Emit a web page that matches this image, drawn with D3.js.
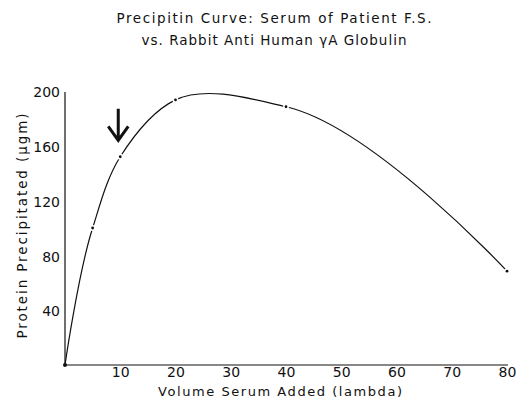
<!DOCTYPE html>
<html>
<head>
<meta charset="utf-8">
<script src="https://cdn.jsdelivr.net/npm/d3@7"></script>
<style>
  html, body { margin: 0; padding: 0; background: #fff; }
  svg { display: block; }
  text { font-family: "DejaVu Sans", sans-serif; fill: #111; }
</style>
</head>
<body>
<svg id="chart" width="524" height="405"></svg>
<script>
// ---- data ----
const serumVolume = [0, 5, 10, 20, 40, 80];            // lambda
const proteinPrecipitated = [0, 100, 152, 193.5, 188.5, 68.5]; // µgm
const xTicks = [10, 20, 30, 40, 50, 60, 70, 80];
const yTicks = [40, 80, 120, 160, 200];
const titleLines = ["Precipitin Curve:  Serum of Patient F.S.", "vs. Rabbit Anti Human  γA Globulin"];
const xTitle = "Volume Serum Added  (lambda)";
const yTitle = "Protein  Precipitated  (μgm)";
const arrowX = [10];
const arrowRange = [187, 164];

// ---- layout ----
const svg = d3.select("#chart");
const x = d3.scaleLinear().domain([0, 80]).range([65, 507]);
const y = d3.scaleLinear().domain([0, 200]).range([365, 91]);

// titles
svg.append("text").attr("x", 274).attr("y", 18).attr("dy", "0.35em")
  .attr("text-anchor", "middle").style("font-size", "13.5px")
  .attr("textLength", 315).attr("lengthAdjust", "spacing").text(titleLines[0]);
svg.append("text").attr("x", 274).attr("y", 40).attr("dy", "0.35em")
  .attr("text-anchor", "middle").style("font-size", "13.5px")
  .attr("textLength", 265).attr("lengthAdjust", "spacing").text(titleLines[1]);

// axes
const xAxis = d3.axisBottom(x).tickValues(xTicks).tickSize(0).tickPadding(2).tickFormat(d3.format("d"));
const yAxis = d3.axisLeft(y).tickValues(yTicks).tickSize(0).tickPadding(5).tickFormat(d3.format("d"));

const gx = svg.append("g").attr("transform", `translate(0,${y(0)})`).call(xAxis);
gx.select(".domain").attr("d", `M${x(0)},0H${x(80) + 1}`).attr("stroke", "#111").attr("stroke-width", 1.2);
gx.selectAll("text").style("font-size", "14px").style("font-family", "DejaVu Sans, sans-serif").attr("fill", "#111");

const gy = svg.append("g").attr("transform", `translate(${x(0)},0)`).call(yAxis);
gy.select(".domain").attr("d", `M0,${y(0)}V${y(200) + 1}`).attr("stroke", "#111").attr("stroke-width", 1.2);
gy.selectAll("text").style("font-size", "14px").style("font-family", "DejaVu Sans, sans-serif").attr("fill", "#111").attr("dy", "0.4em");

// axis titles
svg.append("text").attr("x", 280).attr("y", 391).attr("dy", "0.35em")
  .attr("text-anchor", "middle").style("font-size", "13px")
  .attr("textLength", 244).attr("lengthAdjust", "spacing").text(xTitle);
svg.append("text").attr("transform", "translate(22,226) rotate(-90)").attr("dy", "0.35em")
  .attr("text-anchor", "middle").style("font-size", "13.5px")
  .attr("textLength", 225).attr("lengthAdjust", "spacing").text(yTitle);

// curve
const pts = serumVolume.map((v, i) => [v, proteinPrecipitated[i]]);
const line = d3.line().x(d => x(d[0])).y(d => y(d[1])).curve(d3.curveCatmullRom.alpha(1));
svg.append("path").datum(pts).attr("d", line)
  .attr("fill", "none").attr("stroke", "#111").attr("stroke-width", 1.2);

// small breaks and points
svg.selectAll("circle.halo").data(pts.slice(1)).join("circle").attr("class", "halo")
  .attr("cx", d => x(d[0])).attr("cy", d => y(d[1])).attr("r", 3).attr("fill", "#fff");
svg.selectAll("circle.pt").data(pts).join("circle").attr("class", "pt")
  .attr("cx", d => x(d[0])).attr("cy", d => y(d[1])).attr("r", d => d[0] === 0 ? 2 : 1.4).attr("fill", "#111");

// arrow annotation
svg.selectAll("path.arrow").data(arrowX).join("path").attr("class", "arrow")
  .attr("d", d => {
    const ax = x(d) - 2, y0 = y(arrowRange[0]), y1 = y(arrowRange[1]);
    return `M${ax},${y0}V${y1} M${ax - 10},${y1 - 14}L${ax},${y1}L${ax + 10},${y1 - 14}`;
  })
  .attr("fill", "none").attr("stroke", "#111").attr("stroke-width", 3)
  .attr("stroke-linejoin", "miter").attr("stroke-linecap", "butt");
</script>
</body>
</html>
